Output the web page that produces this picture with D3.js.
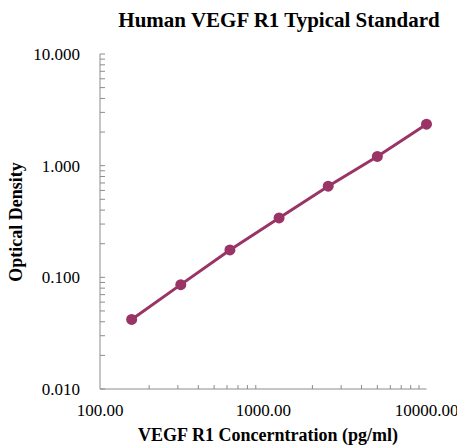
<!DOCTYPE html>
<html>
<head>
<meta charset="utf-8">
<script src="https://cdn.jsdelivr.net/npm/d3@7"></script>
<style>
  body { margin: 0; background: #fff; }
  text { font-family: "Liberation Serif", "Times New Roman", serif; fill: #000; }
</style>
</head>
<body>
<div id="chart"></div>
<script>
const width = 457, height = 445;

// standard curve values
const concentrations = [156.25, 312.5, 625, 1250, 2500, 5000, 10000];
const densities = [0.042, 0.086, 0.176, 0.340, 0.655, 1.21, 2.35];
const xTicks = [100, 1000, 10000];
const yTicks = [0.01, 0.1, 1, 10];

const margin = {left: 100, top: 54, right: 30, bottom: 56};

const x = d3.scaleLog().domain([100, 10000]).range([margin.left, 426.5]);
const y = d3.scaleLog().domain([0.01, 10]).range([389, margin.top]);

const svg = d3.select("#chart").append("svg")
    .attr("width", width)
    .attr("height", height);

// minor tick positions, 2..9 in each decade
const minorTicks = (lo, hi) => {
    let out = [];
    for (let p = lo; p < hi; p *= 10)
        for (let k = 2; k < 10; k++) out.push(p * k);
    return out;
};

const axisColor = "#8c8c8c";

// x axis
const gx = svg.append("g").attr("transform", "translate(0," + y(0.01) + ")");
gx.append("line").attr("x1", x(100)).attr("x2", x(10000)).attr("stroke", axisColor).attr("stroke-width", 1);
gx.selectAll(".mt").data(minorTicks(100, 10000)).join("line")
    .attr("x1", d => x(d)).attr("x2", d => x(d))
    .attr("y1", 0).attr("y2", -4)
    .attr("stroke", axisColor);
gx.selectAll(".lb").data(xTicks).join("text")
    .attr("x", d => x(d)).attr("y", 21)
    .attr("dy", "0.35em")
    .attr("text-anchor", "middle")
    .style("font-size", "17px")
    .text(d => d3.format(".2f")(d));

// y axis
const gy = svg.append("g").attr("transform", "translate(" + x(100) + ",0)");
gy.append("line").attr("y1", y(0.01)).attr("y2", y(10)).attr("stroke", axisColor).attr("stroke-width", 1);
gy.selectAll(".mt").data(minorTicks(0.01, 10).concat(yTicks)).join("line")
    .attr("y1", d => y(d)).attr("y2", d => y(d))
    .attr("x1", 0).attr("x2", 5)
    .attr("stroke", axisColor);
gy.selectAll(".lb").data(yTicks).join("text")
    .attr("x", -20).attr("y", d => y(d))
    .attr("dy", "0.35em")
    .attr("text-anchor", "end")
    .style("font-size", "17px")
    .text(d => d3.format(".3f")(d));

// titles
svg.append("text")
    .attr("x", 279).attr("y", 27)
    .attr("text-anchor", "middle")
    .style("font-size", "21px").style("font-weight", "bold")
    .text("Human VEGF R1 Typical Standard");

svg.append("text")
    .attr("x", 268).attr("y", 441)
    .attr("text-anchor", "middle")
    .style("font-size", "18px").style("font-weight", "bold")
    .text("VEGF R1 Concerntration (pg/ml)");

svg.append("text")
    .attr("transform", "translate(22,222) rotate(-90)")
    .attr("text-anchor", "middle")
    .style("font-size", "18px").style("font-weight", "bold")
    .text("Optical Density");

// series
const pts = concentrations.map((c, i) => [c, densities[i]]);
const color = "#9a3366";

svg.append("path")
    .datum(pts)
    .attr("fill", "none")
    .attr("stroke", color)
    .attr("stroke-width", 3)
    .attr("d", d3.line().x(d => x(d[0])).y(d => y(d[1])));

svg.selectAll(".dot").data(pts).join("circle")
    .attr("cx", d => x(d[0])).attr("cy", d => y(d[1]))
    .attr("r", 5.5)
    .attr("fill", color);
</script>
</body>
</html>
